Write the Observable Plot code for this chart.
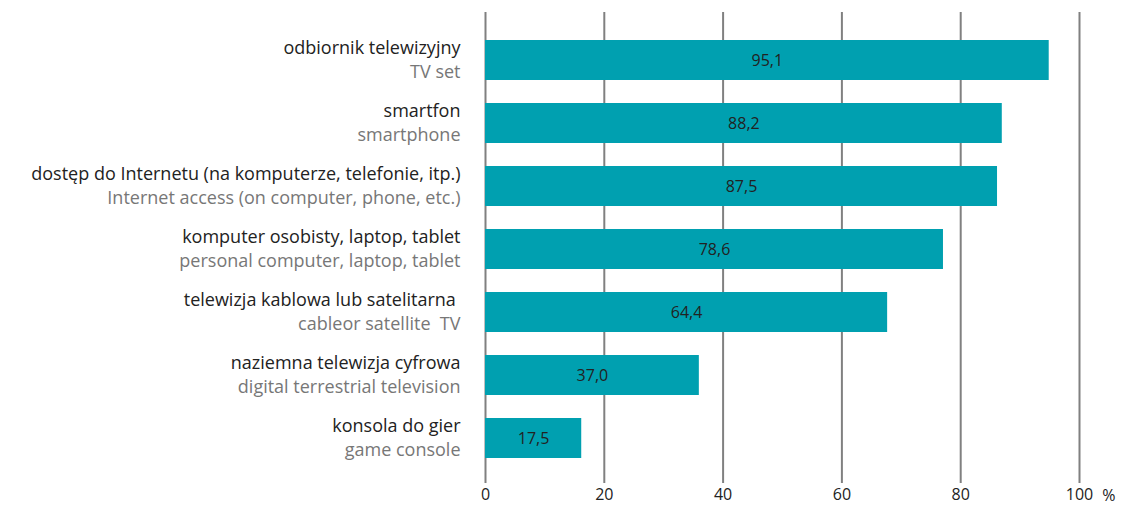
<!DOCTYPE html>
<html>
<head>
<meta charset="utf-8">
<script src="https://cdn.jsdelivr.net/npm/d3@7"></script>
<script src="https://cdn.jsdelivr.net/npm/@observablehq/plot@0.6"></script>
<style>
  html, body { margin: 0; padding: 0; background: #fff; }
  #chart svg { display: block; }
</style>
</head>
<body>
<div id="chart"></div>
<script>
const labelsPL = [
  "odbiornik telewizyjny",
  "smartfon",
  "dostęp do Internetu (na komputerze, telefonie, itp.)",
  "komputer osobisty, laptop, tablet",
  "telewizja kablowa lub satelitarna ",
  "naziemna telewizja cyfrowa",
  "konsola do gier"
];
const labelsEN = [
  "TV set",
  "smartphone",
  "Internet access (on computer, phone, etc.)",
  "personal computer, laptop, tablet",
  "cableor satellite  TV",
  "digital terrestrial television",
  "game console"
];
// bar lengths as drawn in the picture
const barValues = [94.9, 87.0, 86.2, 77.1, 67.7, 36.0, 16.2];
// value labels as printed on the bars
const valueLabels = ["95,1", "88,2", "87,5", "78,6", "64,4", "37,0", "17,5"];
const xTicks = [0, 20, 40, 60, 80, 100];

const data = labelsPL.map((pl, i) => ({
  key: String(i), pl, en: labelsEN[i], value: barValues[i], label: valueLabels[i]
}));
const order = data.map(d => d.key);

const font = "'Open Sans', 'Noto Sans', sans-serif";

const chart = Plot.plot({
  width: 1122,
  height: 511,
  marginLeft: 485,
  marginRight: 43,
  marginTop: 12,
  marginBottom: 28,
  style: { fontFamily: font, fontSize: "16px", color: "#222", background: "#fff" },
  x: { domain: [0, 100], ticks: xTicks, tickSize: 0, label: null },
  y: { domain: order, paddingInner: 0.372, paddingOuter: 0.385, align: 0.53, axis: null, label: null },
  marks: [
    Plot.ruleX(xTicks, { stroke: "#808080", strokeWidth: 2 }),
    Plot.barX(data, { x: "value", y: "key", fill: "#00A0B0" }),
    Plot.text(data, { x: d => d.value / 2, y: "key", text: "label", fill: "#222", fontSize: 16 }),
    Plot.text(data, { x: 0, y: "key", text: "pl", textAnchor: "end", dx: -25, dy: -12, fill: "#222", fontSize: 18 }),
    Plot.text(data, { x: 0, y: "key", text: "en", textAnchor: "end", dx: -25, dy: 12, fill: "#777", fontSize: 18 }),
    Plot.axisX({ ticks: xTicks, tickSize: 0, tickPadding: 5, fontSize: 16, fill: "#222", label: null }),
    Plot.text(["%"], { frameAnchor: "bottom-right", lineAnchor: "middle", dx: 36, dy: 12, fill: "#222", fontSize: 16 })
  ]
});
document.getElementById("chart").appendChild(chart);
</script>
</body>
</html>
